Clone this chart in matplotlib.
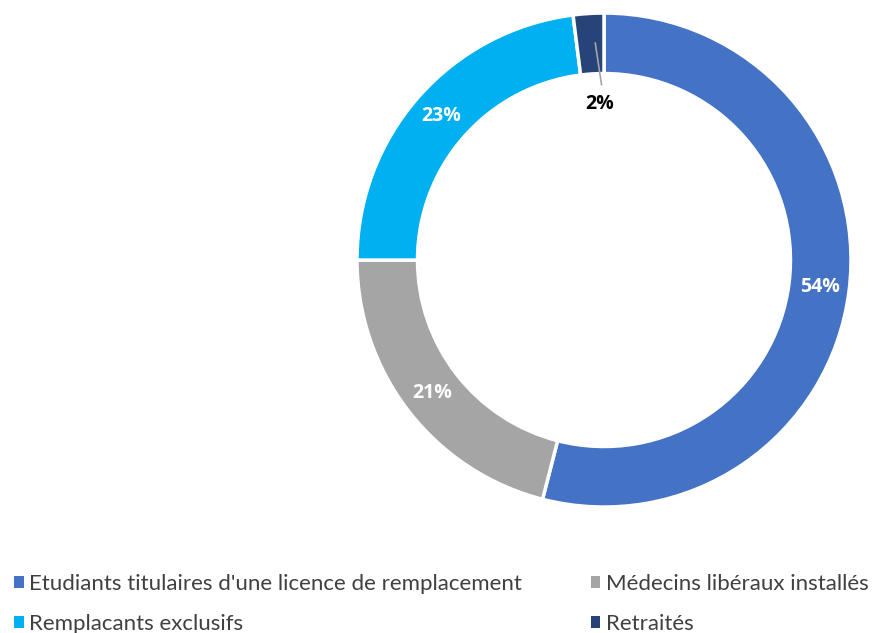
import numpy as np
import matplotlib.pyplot as plt

# categories and shares (%)
labels = ["Etudiants titulaires d'une licence de remplacement",
          "Médecins libéraux installés",
          "Remplacants exclusifs",
          "Retraités"]
shares = [54, 21, 23, 2]
colors = ["#4472C4", "#A5A5A5", "#00B0F0", "#264478"]

plt.rcParams['font.family'] = ['Lato', 'DejaVu Sans']

fig = plt.figure(figsize=(8.72, 6.33), dpi=100)
ax = fig.add_axes([0.4094, 0.199, 0.5665, 0.7804])

wedges, _ = ax.pie(shares, colors=colors, startangle=90, counterclock=False,
                   radius=1.0,
                   wedgeprops=dict(width=0.245, edgecolor="white", linewidth=2.5))
ax.set_xlim(-1, 1)
ax.set_ylim(-1, 1)
ax.set_aspect("equal")
ax.axis("off")

lbl_font = dict(family=['Open Sans', 'DejaVu Sans'], fontsize=14,
                fontweight="bold")
for w, s in zip(wedges, shares):
    mid = np.deg2rad((w.theta1 + w.theta2) / 2)
    if s < 5:
        # small slice: label inside the hole with a leader line
        x0, y0 = 0.88 * np.cos(mid), 0.88 * np.sin(mid)
        ax.plot([x0 + 0.02, -0.01], [y0, 0.71], color="#A5A5A5", lw=1.2)
        ax.text(-0.016, 0.63, f"{s}%", ha="center", va="center",
                color="black", **lbl_font)
    else:
        ax.text(0.88 * np.cos(mid), 0.88 * np.sin(mid), f"{s}%",
                ha="center", va="center", color="white", **lbl_font)

# legend, two columns, row-wise order
order = [0, 2, 1, 3]
leg = fig.legend([wedges[i] for i in order], [labels[i] for i in order],
                 ncol=2, loc="upper left", bbox_to_anchor=(-0.0066, 0.125),
                 frameon=False, fontsize=16, handlelength=0.42,
                 handleheight=0.42, handletextpad=0.25, columnspacing=3.1,
                 labelspacing=0.9, borderpad=0.4, labelcolor="#404040")
for h in leg.legend_handles:
    h.set_linewidth(0)

fig.savefig("out.png", dpi=100)
